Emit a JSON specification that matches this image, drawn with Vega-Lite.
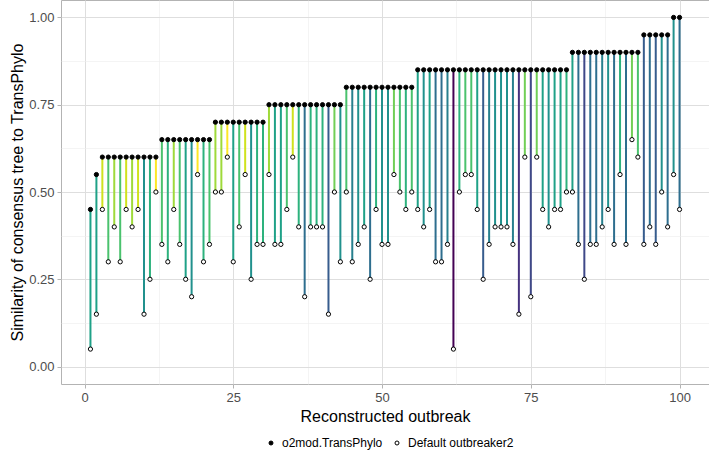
{
 "$schema": "https://vega.github.io/schema/vega-lite/v6.json",
 "width": 648, "height": 384,
 "autosize": {"type": "none"},
 "padding": {"left": 61, "top": 0, "right": 0, "bottom": 76},
 "background": "white",
 "config": {
  "font": "Liberation Sans",
  "view": {"stroke": "#B3B3B3", "strokeWidth": 1},
  "axis": {"domain": false, "labelColor": "#4D4D4D", "labelFontSize": 13, "titleFontSize": 16, "titleFontWeight": "normal", "titleColor": "black", "tickSize": 4, "labelPadding": 3}
 },
 "data": {"values": [
  {"outbreak":1,"tp":0.45,"def":0.05,"diff":0.40},
  {"outbreak":2,"tp":0.55,"def":0.15,"diff":0.40},
  {"outbreak":3,"tp":0.60,"def":0.45,"diff":0.15},
  {"outbreak":4,"tp":0.60,"def":0.30,"diff":0.30},
  {"outbreak":5,"tp":0.60,"def":0.40,"diff":0.20},
  {"outbreak":6,"tp":0.60,"def":0.30,"diff":0.30},
  {"outbreak":7,"tp":0.60,"def":0.45,"diff":0.15},
  {"outbreak":8,"tp":0.60,"def":0.40,"diff":0.20},
  {"outbreak":9,"tp":0.60,"def":0.45,"diff":0.15},
  {"outbreak":10,"tp":0.60,"def":0.15,"diff":0.45},
  {"outbreak":11,"tp":0.60,"def":0.25,"diff":0.35},
  {"outbreak":12,"tp":0.60,"def":0.50,"diff":0.10},
  {"outbreak":13,"tp":0.65,"def":0.35,"diff":0.30},
  {"outbreak":14,"tp":0.65,"def":0.30,"diff":0.35},
  {"outbreak":15,"tp":0.65,"def":0.45,"diff":0.20},
  {"outbreak":16,"tp":0.65,"def":0.35,"diff":0.30},
  {"outbreak":17,"tp":0.65,"def":0.25,"diff":0.40},
  {"outbreak":18,"tp":0.65,"def":0.20,"diff":0.45},
  {"outbreak":19,"tp":0.65,"def":0.55,"diff":0.10},
  {"outbreak":20,"tp":0.65,"def":0.30,"diff":0.35},
  {"outbreak":21,"tp":0.65,"def":0.35,"diff":0.30},
  {"outbreak":22,"tp":0.70,"def":0.50,"diff":0.20},
  {"outbreak":23,"tp":0.70,"def":0.50,"diff":0.20},
  {"outbreak":24,"tp":0.70,"def":0.60,"diff":0.10},
  {"outbreak":25,"tp":0.70,"def":0.30,"diff":0.40},
  {"outbreak":26,"tp":0.70,"def":0.40,"diff":0.30},
  {"outbreak":27,"tp":0.70,"def":0.55,"diff":0.15},
  {"outbreak":28,"tp":0.70,"def":0.25,"diff":0.45},
  {"outbreak":29,"tp":0.70,"def":0.35,"diff":0.35},
  {"outbreak":30,"tp":0.70,"def":0.35,"diff":0.35},
  {"outbreak":31,"tp":0.75,"def":0.55,"diff":0.20},
  {"outbreak":32,"tp":0.75,"def":0.35,"diff":0.40},
  {"outbreak":33,"tp":0.75,"def":0.35,"diff":0.40},
  {"outbreak":34,"tp":0.75,"def":0.45,"diff":0.30},
  {"outbreak":35,"tp":0.75,"def":0.60,"diff":0.15},
  {"outbreak":36,"tp":0.75,"def":0.40,"diff":0.35},
  {"outbreak":37,"tp":0.75,"def":0.20,"diff":0.55},
  {"outbreak":38,"tp":0.75,"def":0.40,"diff":0.35},
  {"outbreak":39,"tp":0.75,"def":0.40,"diff":0.35},
  {"outbreak":40,"tp":0.75,"def":0.40,"diff":0.35},
  {"outbreak":41,"tp":0.75,"def":0.15,"diff":0.60},
  {"outbreak":42,"tp":0.75,"def":0.50,"diff":0.25},
  {"outbreak":43,"tp":0.75,"def":0.30,"diff":0.45},
  {"outbreak":44,"tp":0.80,"def":0.50,"diff":0.30},
  {"outbreak":45,"tp":0.80,"def":0.30,"diff":0.50},
  {"outbreak":46,"tp":0.80,"def":0.35,"diff":0.45},
  {"outbreak":47,"tp":0.80,"def":0.40,"diff":0.40},
  {"outbreak":48,"tp":0.80,"def":0.25,"diff":0.55},
  {"outbreak":49,"tp":0.80,"def":0.45,"diff":0.35},
  {"outbreak":50,"tp":0.80,"def":0.35,"diff":0.45},
  {"outbreak":51,"tp":0.80,"def":0.35,"diff":0.45},
  {"outbreak":52,"tp":0.80,"def":0.55,"diff":0.25},
  {"outbreak":53,"tp":0.80,"def":0.50,"diff":0.30},
  {"outbreak":54,"tp":0.80,"def":0.45,"diff":0.35},
  {"outbreak":55,"tp":0.80,"def":0.50,"diff":0.30},
  {"outbreak":56,"tp":0.85,"def":0.45,"diff":0.40},
  {"outbreak":57,"tp":0.85,"def":0.40,"diff":0.45},
  {"outbreak":58,"tp":0.85,"def":0.45,"diff":0.40},
  {"outbreak":59,"tp":0.85,"def":0.30,"diff":0.55},
  {"outbreak":60,"tp":0.85,"def":0.30,"diff":0.55},
  {"outbreak":61,"tp":0.85,"def":0.35,"diff":0.50},
  {"outbreak":62,"tp":0.85,"def":0.05,"diff":0.80},
  {"outbreak":63,"tp":0.85,"def":0.50,"diff":0.35},
  {"outbreak":64,"tp":0.85,"def":0.55,"diff":0.30},
  {"outbreak":65,"tp":0.85,"def":0.55,"diff":0.30},
  {"outbreak":66,"tp":0.85,"def":0.45,"diff":0.40},
  {"outbreak":67,"tp":0.85,"def":0.25,"diff":0.60},
  {"outbreak":68,"tp":0.85,"def":0.35,"diff":0.50},
  {"outbreak":69,"tp":0.85,"def":0.40,"diff":0.45},
  {"outbreak":70,"tp":0.85,"def":0.40,"diff":0.45},
  {"outbreak":71,"tp":0.85,"def":0.40,"diff":0.45},
  {"outbreak":72,"tp":0.85,"def":0.35,"diff":0.50},
  {"outbreak":73,"tp":0.85,"def":0.15,"diff":0.70},
  {"outbreak":74,"tp":0.85,"def":0.60,"diff":0.25},
  {"outbreak":75,"tp":0.85,"def":0.20,"diff":0.65},
  {"outbreak":76,"tp":0.85,"def":0.60,"diff":0.25},
  {"outbreak":77,"tp":0.85,"def":0.45,"diff":0.40},
  {"outbreak":78,"tp":0.85,"def":0.40,"diff":0.45},
  {"outbreak":79,"tp":0.85,"def":0.45,"diff":0.40},
  {"outbreak":80,"tp":0.85,"def":0.45,"diff":0.40},
  {"outbreak":81,"tp":0.85,"def":0.50,"diff":0.35},
  {"outbreak":82,"tp":0.90,"def":0.50,"diff":0.40},
  {"outbreak":83,"tp":0.90,"def":0.35,"diff":0.55},
  {"outbreak":84,"tp":0.90,"def":0.25,"diff":0.65},
  {"outbreak":85,"tp":0.90,"def":0.35,"diff":0.55},
  {"outbreak":86,"tp":0.90,"def":0.35,"diff":0.55},
  {"outbreak":87,"tp":0.90,"def":0.40,"diff":0.50},
  {"outbreak":88,"tp":0.90,"def":0.45,"diff":0.45},
  {"outbreak":89,"tp":0.90,"def":0.35,"diff":0.55},
  {"outbreak":90,"tp":0.90,"def":0.55,"diff":0.35},
  {"outbreak":91,"tp":0.90,"def":0.35,"diff":0.55},
  {"outbreak":92,"tp":0.90,"def":0.65,"diff":0.25},
  {"outbreak":93,"tp":0.90,"def":0.60,"diff":0.30},
  {"outbreak":94,"tp":0.95,"def":0.35,"diff":0.60},
  {"outbreak":95,"tp":0.95,"def":0.40,"diff":0.55},
  {"outbreak":96,"tp":0.95,"def":0.35,"diff":0.60},
  {"outbreak":97,"tp":0.95,"def":0.50,"diff":0.45},
  {"outbreak":98,"tp":0.95,"def":0.40,"diff":0.55},
  {"outbreak":99,"tp":1.00,"def":0.55,"diff":0.45},
  {"outbreak":100,"tp":1.00,"def":0.45,"diff":0.55}
 ]},
 "layer": [
  {
   "mark": {"type": "rule", "strokeWidth": 2},
   "encoding": {
    "x": {"field": "outbreak", "type": "quantitative",
      "scale": {"domain": [-3.95, 104.95], "nice": false, "zero": false},
      "axis": {"title": "Reconstructed outbreak", "values": [0, 12.5, 25, 37.5, 50, 62.5, 75, 87.5, 100],
        "labelExpr": "datum.value % 25 == 0 ? datum.label : ''",
        "grid": true,
        "gridColor": {"condition": {"test": "datum.value % 25 != 0", "value": "#EDEDED"}, "value": "#DEDEDE"},
        "gridWidth": {"condition": {"test": "datum.value % 25 != 0", "value": 0.6}, "value": 1},
        "tickColor": {"condition": {"test": "datum.value % 25 != 0", "value": "transparent"}, "value": "#B3B3B3"},
        "titlePadding": 4}},
    "y": {"field": "tp", "type": "quantitative",
      "scale": {"domain": [-0.05, 1.05], "nice": false, "zero": false},
      "axis": {"title": "Similarity of consensus tree to TransPhylo", "values": [0, 0.125, 0.25, 0.375, 0.5, 0.625, 0.75, 0.875, 1],
        "format": ".2f",
        "labelExpr": "(datum.value * 4) % 1 == 0 ? datum.label : ''",
        "grid": true,
        "gridColor": {"condition": {"test": "(datum.value * 4) % 1 != 0", "value": "#EDEDED"}, "value": "#DEDEDE"},
        "gridWidth": {"condition": {"test": "(datum.value * 4) % 1 != 0", "value": 0.6}, "value": 1},
        "tickColor": {"condition": {"test": "(datum.value * 4) % 1 != 0", "value": "transparent"}, "value": "#B3B3B3"},
        "titlePadding": 3}},
    "y2": {"field": "def"},
    "color": {"field": "diff", "type": "quantitative",
      "scale": {"scheme": "viridis", "reverse": true, "domain": [0.1, 0.8], "zero": false},
      "legend": null}
   }
  },
  {
   "transform": [{"fold": ["tp", "def"], "as": ["method", "value"]}],
   "mark": {"type": "point", "shape": "circle", "filled": true, "stroke": "black", "strokeWidth": 1, "size": 18, "opacity": 1},
   "encoding": {
    "x": {"field": "outbreak", "type": "quantitative"},
    "y": {"field": "value", "type": "quantitative"},
    "fill": {"field": "method", "type": "nominal",
      "scale": {"domain": ["tp", "def"], "range": ["black", "white"]},
      "legend": {"title": null, "orient": "none", "legendX": 204, "legendY": 437, "direction": "horizontal",
        "labelExpr": "datum.label == 'tp' ? 'o2mod.TransPhylo' : 'Default outbreaker2'",
        "labelFontSize": 12, "labelColor": "black", "symbolType": "circle", "symbolSize": 16,
        "symbolStrokeColor": "black", "symbolStrokeWidth": 1, "columnPadding": 8, "labelOffset": 5}}
   }
  }
 ]
}
